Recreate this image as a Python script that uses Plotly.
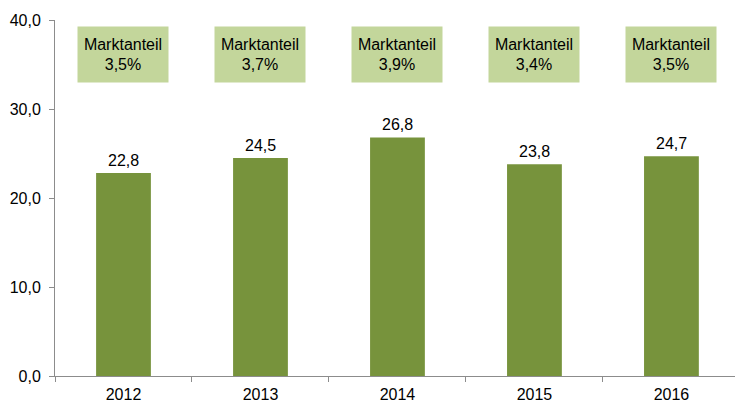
import plotly.graph_objects as go

years = ["2012", "2013", "2014", "2015", "2016"]
values = [22.8, 24.5, 26.8, 23.8, 24.7]
shares = ["3,5%", "3,7%", "3,9%", "3,4%", "3,5%"]
y_ticks = [0, 10, 20, 30, 40]

BAR = "#77933C"
BOX = "#C3D69B"
AXIS = "#8C8C8C"
FONT = "Liberation Sans, Arial, sans-serif"

fig = go.Figure()
fig.add_trace(go.Bar(x=years, y=values, marker=dict(color=BAR, line=dict(width=0)),
                     width=0.4, hoverinfo="skip"))

annotations = []
for i, (v, s) in enumerate(zip(values, shares)):
    annotations.append(dict(x=i, y=v, xref="x", yref="y", text=f"{v:.1f}".replace(".", ","),
                            showarrow=False, yanchor="bottom", yshift=2,
                            font=dict(size=16, color="#000000", family=FONT)))
    annotations.append(dict(x=i, y=36.1, xref="x", yref="y", text="Marktanteil<br>" + s,
                            showarrow=False, yanchor="middle", xanchor="center",
                            bgcolor=BOX, width=88, height=53, borderpad=1,
                            font=dict(size=16, color="#000000", family=FONT)))

fig.update_layout(
    width=735, height=404,
    margin=dict(l=55, r=0, t=20, b=28),
    paper_bgcolor="white", plot_bgcolor="white",
    separators=",.",
    showlegend=False,
    font=dict(family=FONT, size=16, color="#000000"),
    annotations=annotations,
)
fig.update_xaxes(type="category", range=[-0.5, 4.464], showline=True, linecolor=AXIS, linewidth=1,
                 ticks="outside", tickson="boundaries", ticklen=5, tickcolor=AXIS, automargin=False,
                 showgrid=False, ticklabelstandoff=4, tickfont=dict(size=16, color="#000000"))
fig.update_yaxes(range=[0, 40], tickvals=y_ticks, tickformat=".1f", showline=True, linecolor=AXIS,
                 linewidth=1, ticks="outside", ticklen=5, tickcolor=AXIS, showgrid=False, automargin=False,
                 zeroline=False, ticklabelstandoff=5, tickfont=dict(size=16, color="#000000"))

fig.write_html("out.html", config={"displayModeBar": False},
               post_script="document.body.style.margin='0';")
